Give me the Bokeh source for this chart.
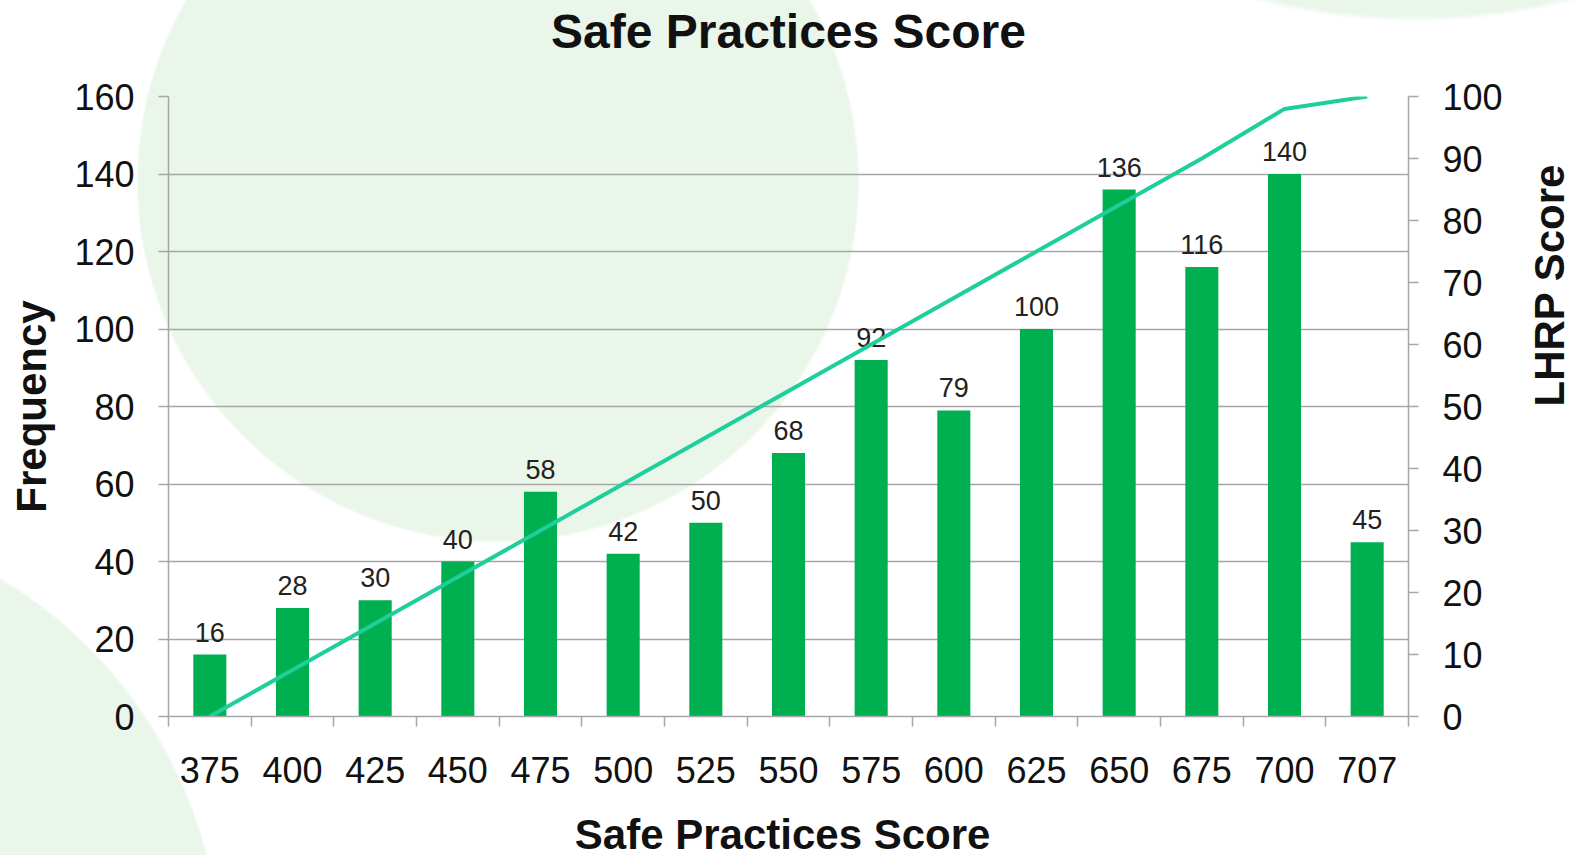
import math
import numpy as np
from bokeh.plotting import figure
from bokeh.models import Range1d, LinearAxis, FixedTicker, ColumnDataSource, Title
from bokeh.core.properties import value
from bokeh.embed import file_html
from bokeh.resources import INLINE

# ---- data ----
categories = ["375", "400", "425", "450", "475", "500", "525", "550",
              "575", "600", "625", "650", "675", "700", "707"]
frequency = [16, 28, 30, 40, 58, 42, 50, 68, 92, 79, 100, 136, 116, 140, 45]
lhrp_score = [0, 7.5, 15, 22.5, 30, 37.5, 45, 52.5, 60, 67.5, 75, 82.5, 90, 98, 100]
freq_ticks = [0, 20, 40, 60, 80, 100, 120, 140, 160]
lhrp_ticks = [0, 10, 20, 30, 40, 50, 60, 70, 80, 90, 100]
title_text = "Safe Practices Score"
x_title = "Safe Practices  Score"
y_title = "Frequency"
y2_title = "LHRP Score"

FONT = "Liberation Sans"
GRID = "#A6A6A6"
BAR = "#00B050"
LINE = "#1ECF9C"
CIRCLE = "#EAF6E9"
TXT = "#111111"

n = len(categories)
xc = [i + 0.5 for i in range(n)]
src = ColumnDataSource(dict(x=xc, freq=frequency, lab=[str(v) for v in frequency], lhrp=lhrp_score))

p = figure(frame_width=1240, frame_height=620, output_backend="svg", toolbar_location=None,
           x_range=Range1d(0, n), y_range=Range1d(0, 160),
           min_border_left=168, min_border_right=160, min_border_top=96, min_border_bottom=130)
p.extra_y_ranges = {"lhrp": Range1d(0, 100)}

p.background_fill_alpha = 0
p.border_fill_alpha = 0
p.outline_line_color = None
p.styles = {
    "background-color": "white",
    "background-image": (
        f"radial-gradient(circle 361px at 498px 181px, {CIRCLE} 359px, rgba(234,246,233,0) 362px),"
        f"radial-gradient(circle 453px at -232px 967px, {CIRCLE} 451px, rgba(234,246,233,0) 454px),"
        f"radial-gradient(circle 630px at 1415px -610px, {CIRCLE} 626px, rgba(234,246,233,0) 632px)"
    ),
}

# title: a small blank spacer next to the frame, then the real title above it
p.title.text = ""
spacer = Title(text=" ", text_font_size="10px", standoff=24)
p.add_layout(spacer, "above")
main_title = Title(text=title_text, align="center", vertical_align="top", standoff=0,
                   text_font=FONT, text_font_size="48px", text_font_style="bold", text_color=TXT)
p.add_layout(main_title, "above")

# bars
p.vbar(x="x", top="freq", width=0.4, source=src, fill_color=BAR, line_color=None)
# data labels
p.text(x="x", y="freq", text="lab", source=src, text_align="center", text_baseline="bottom",
       y_offset=-13, text_font=value(FONT), text_font_size="27px", text_color="#222222")
# line
p.line(x="x", y="lhrp", source=src, y_range_name="lhrp", line_color=LINE, line_width=4)

# grid
p.xgrid.visible = False
p.ygrid.ticker = FixedTicker(ticks=freq_ticks)
p.ygrid.grid_line_color = GRID
p.ygrid.grid_line_width = 1.5


def style_axis(ax, label, tick_out, standoff, label_standoff):
    ax.major_tick_out = tick_out
    ax.major_tick_in = 0
    ax.major_tick_line_color = GRID
    ax.major_tick_line_width = 1.5
    ax.axis_line_color = GRID
    ax.axis_line_width = 1.5
    ax.major_label_standoff = standoff
    ax.major_label_text_font = FONT
    ax.major_label_text_font_size = "36px"
    ax.major_label_text_color = TXT
    ax.axis_label = label
    ax.axis_label_text_font = FONT
    ax.axis_label_text_font_size = "42px"
    ax.axis_label_text_font_style = "bold"
    ax.axis_label_text_color = TXT
    ax.axis_label_standoff = label_standoff


# x axis
xa = p.xaxis[0]
xa.ticker = FixedTicker(ticks=xc, minor_ticks=list(range(n + 1)))
xa.major_label_overrides = {x: c for x, c in zip(xc, categories)}
style_axis(xa, x_title, 0, 30, 25)
xa.minor_tick_out = 10
xa.minor_tick_in = 0
xa.minor_tick_line_color = GRID
xa.minor_tick_line_width = 1.5

# left axis
ya = p.yaxis[0]
ya.ticker = FixedTicker(ticks=freq_ticks)
style_axis(ya, y_title, 10, 24, 16)
ya.minor_tick_out = 0
ya.minor_tick_in = 0

# right axis
ra = LinearAxis(y_range_name="lhrp", ticker=FixedTicker(ticks=lhrp_ticks))
style_axis(ra, y2_title, 10, 24, 44)
ra.minor_tick_out = 0
ra.minor_tick_in = 0
ra.axis_label_orientation = math.pi / 2
p.add_layout(ra, "right")

open("out.html", "w").write(file_html(p, INLINE))
